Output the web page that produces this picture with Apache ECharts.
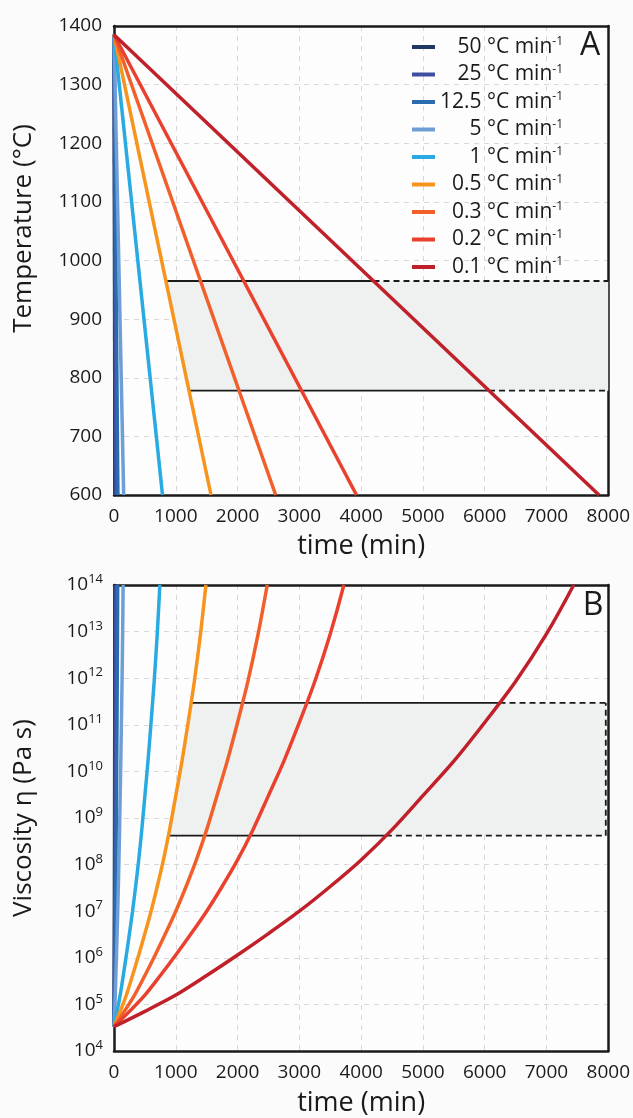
<!DOCTYPE html>
<html>
<head>
<meta charset="utf-8">
<script src="https://cdn.jsdelivr.net/npm/echarts@6/dist/echarts.min.js"></script>
<style>
  html, body { margin: 0; padding: 0; background: #fbfbfb; }
  #chart { width: 633px; height: 1118px; }
</style>
</head>
<body>
<div id="chart"></div>
<script>
const FONT = '"Open Sans", "Noto Sans", "DejaVu Sans", sans-serif';
const INK = '#1a1a1a';

// Cooling rates (°C per minute) and line colours
const rates = ['50', '25', '12.5', '5', '1', '0.5', '0.3', '0.2', '0.1'];
const rateColors = ['#1f3864', '#3f4ea1', '#2b6cb0', '#6d9fd6', '#29abe2',
                    '#f7941d', '#f1602a', '#e9412e', '#c0202a'];

// Panel A: linear cooling paths, [time (min), temperature (°C)]
const tempPaths = [
  [[0, 1385], [16, 600]],
  [[0, 1385], [31, 600]],
  [[0, 1385], [63, 600]],
  [[0, 1385], [157, 600]],
  [[0, 1385], [785, 600]],
  [[0, 1385], [1570, 600]],
  [[0, 1385], [2617, 600]],
  [[0, 1385], [3925, 600]],
  [[0, 1385], [7850, 600]]
];

// Panel B: log10 viscosity (Pa s) sampled along every path ...
const viscLevels = [4.52, 4.85, 5.2, 5.62, 6.06, 6.52, 7.0, 7.53, 8.1, 8.75, 9.48, 10.22, 11.05, 11.93, 12.95, 14];
// ... and the time (min) at which each path reaches those levels
const viscTimes = [
  [0, 1, 2, 3, 4, 5, 6, 7, 8, 9, 10, 11, 12, 13, 14, 15],
  [0, 2, 4, 6, 8, 10, 12, 14, 16, 18, 20, 22, 24, 26, 28, 30],
  [0, 4, 8, 12, 16, 20, 24, 28, 32, 36, 40, 44, 48, 52, 56, 59.5],
  [0, 10, 20, 30, 40, 50, 60, 70, 80, 90, 100, 110, 120, 130, 140, 148],
  [0, 50, 100, 150, 200, 250, 300, 350, 400, 450, 500, 550, 600, 650, 700, 742],
  [0, 100, 200, 300, 400, 500, 600, 700, 800, 900, 1000, 1100, 1200, 1300, 1400, 1488],
  [0, 167, 333, 500, 667, 833, 1000, 1167, 1333, 1500, 1667, 1833, 2000, 2167, 2333, 2480],
  [0, 250, 500, 750, 1000, 1250, 1500, 1750, 2000, 2250, 2500, 2750, 3000, 3250, 3500, 3720],
  [0, 500, 1000, 1500, 2000, 2500, 3000, 3500, 4000, 4500, 5000, 5500, 6000, 6500, 7000, 7440]
];

// Crystallisation window, [lower bound, upper bound]
const windowTemp = [778, 965];            // °C
const windowTempStart = [1214, 840];      // time where each bound meets the 0.5 °C/min path
const windowTempSolidEnd = [6070, 4200];  // time where each bound meets the 0.1 °C/min path
const windowVisc = [8.62, 11.47];         // log10 viscosity
const windowViscStart = [880, 1248];
const windowViscSolidEnd = [4400, 6240];
const timeEnd = 8000;
const windowViscEdge = 7960;              // dashed right edge of the viscosity window

const pow10 = v => Math.pow(10, v);
const seriesName = i => rates[i] + ' °C min-1';

function windowPolygon(xIdx, yIdx, pts) {
  return {
    type: 'custom',
    xAxisIndex: xIdx, yAxisIndex: yIdx,
    silent: true, z: 1,
    data: [0],
    renderItem: (params, api) => ({
      type: 'polygon',
      shape: { points: pts.map(p => api.coord(p)) },
      style: { fill: '#eff0f0' }
    })
  };
}

function rule(xIdx, yIdx, data, dashed) {
  return {
    type: 'line', xAxisIndex: xIdx, yAxisIndex: yIdx,
    data, showSymbol: false, silent: true, z: 2,
    lineStyle: { color: INK, width: 1.8, type: dashed ? [6, 4] : 'solid' }
  };
}

const series = [];

// shaded windows
series.push(windowPolygon(0, 0, [
  [windowTempStart[1], windowTemp[1]], [timeEnd, windowTemp[1]],
  [timeEnd, windowTemp[0]], [windowTempStart[0], windowTemp[0]]
]));
series.push(windowPolygon(1, 1, [
  [windowViscStart[1], pow10(windowVisc[1])], [windowViscEdge, pow10(windowVisc[1])],
  [windowViscEdge, pow10(windowVisc[0])], [windowViscStart[0], pow10(windowVisc[0])]
]));

// window outlines: solid between the 0.5 and 0.1 °C/min paths, dashed beyond
for (let k = 0; k < 2; k++) {
  series.push(rule(0, 0, [[windowTempStart[k], windowTemp[k]], [windowTempSolidEnd[k], windowTemp[k]]], false));
  series.push(rule(0, 0, [[windowTempSolidEnd[k], windowTemp[k]], [timeEnd, windowTemp[k]]], true));
  series.push(rule(1, 1, [[windowViscStart[k], pow10(windowVisc[k])], [windowViscSolidEnd[k], pow10(windowVisc[k])]], false));
  series.push(rule(1, 1, [[windowViscSolidEnd[k], pow10(windowVisc[k])], [windowViscEdge, pow10(windowVisc[k])]], true));
}
series.push(rule(1, 1, [[windowViscEdge, pow10(windowVisc[0])], [windowViscEdge, pow10(windowVisc[1])]], true));

// cooling paths
rates.forEach((r, i) => {
  series.push({
    name: seriesName(i), type: 'line', xAxisIndex: 0, yAxisIndex: 0,
    data: tempPaths[i], showSymbol: false, clip: false, z: 3,
    color: rateColors[i], lineStyle: { width: 3.5, color: rateColors[i] }
  });
  series.push({
    name: seriesName(i), type: 'line', xAxisIndex: 1, yAxisIndex: 1,
    data: viscTimes[i].map((t, j) => [t, pow10(viscLevels[j])]),
    showSymbol: false, clip: false, z: 3, smooth: 0.3,
    color: rateColors[i], lineStyle: { width: 3.5, color: rateColors[i] }
  });
});

const frameLine = { show: true, onZero: false, lineStyle: { color: INK, width: 2.5 } };
const tickLabel = { fontFamily: FONT, fontSize: 19, color: INK, formatter: v => String(v) };
const axisName = { fontFamily: FONT, fontSize: 26, color: INK };
const split = {
  show: true, showMinLine: false, showMaxLine: false,
  lineStyle: { color: '#d8d8d8', width: 1, type: [5, 5] }
};

const timeAxis = (gridIndex, gap) => ({
  type: 'value', gridIndex, min: 0, max: timeEnd, interval: 1000,
  axisLine: frameLine, axisTick: { show: false },
  axisLabel: Object.assign({ margin: 12 }, tickLabel),
  splitLine: split,
  name: 'time (min)', nameLocation: 'middle', nameGap: gap,
  nameTextStyle: Object.assign({}, axisName, { fontSize: 27 })
});

// plain edges closing the frame on the top and right of each panel
const topEdge = gridIndex => ({
  type: 'value', gridIndex, position: 'top', min: 0, max: 1,
  axisLine: frameLine, axisTick: { show: false }, axisLabel: { show: false }, splitLine: { show: false }
});
const rightEdge = gridIndex => ({
  type: 'value', gridIndex, position: 'right', min: 0, max: 1,
  axisLine: frameLine, axisTick: { show: false }, axisLabel: { show: false }, splitLine: { show: false }
});

const option = {
  backgroundColor: '#fbfbfb',
  animation: false,
  textStyle: { fontFamily: FONT },
  grid: [
    { left: 114, top: 26, width: 495, height: 469, show: true, borderWidth: 0, backgroundColor: '#fdfdfd' },
    { left: 114, top: 585, width: 495, height: 468, show: true, borderWidth: 0, backgroundColor: '#fdfdfd' }
  ],
  xAxis: [timeAxis(0, 38), timeAxis(1, 39), topEdge(0), topEdge(1)],
  yAxis: [
    {
      type: 'value', gridIndex: 0, min: 600, max: 1400, interval: 100,
      axisLine: frameLine, axisTick: { show: false },
      axisLabel: Object.assign({ margin: 12 }, tickLabel),
      splitLine: split,
      name: 'Temperature (°C)', nameLocation: 'middle', nameGap: 77,
      nameTextStyle: Object.assign({}, axisName, { padding: [0, 0, 0, 64] })
    },
    {
      type: 'log', logBase: 10, gridIndex: 1, min: 1e4, max: 1e14, interval: 1,
      axisLine: frameLine, axisTick: { show: false },
      axisLabel: {
        margin: 11,
        formatter: v => '{b|10}{s|' + Math.round(Math.log10(v)) + '}',
        rich: {
          b: { fontFamily: FONT, fontSize: 19, color: INK, lineHeight: 24 },
          s: { fontFamily: FONT, fontSize: 13, color: INK, verticalAlign: 'top', lineHeight: 24 }
        }
      },
      splitLine: split,
      name: 'Viscosity η (Pa s)', nameLocation: 'middle', nameGap: 77, nameTextStyle: axisName
    },
    rightEdge(0),
    rightEdge(1)
  ],
  legend: {
    left: 407, top: 31, orient: 'vertical',
    itemWidth: 23, itemHeight: 4, itemGap: 6, icon: 'rect',
    selectedMode: false,
    data: rates.map((r, i) => seriesName(i)),
    formatter: name => '{n|' + name.replace(' min-1', ' min') + '}{s|-1}',
    textStyle: {
      width: 123,
      rich: {
        n: { fontFamily: FONT, fontSize: 21, color: INK, align: 'right', lineHeight: 22 },
        s: { fontFamily: FONT, fontSize: 12, color: INK, align: 'right', verticalAlign: 'top', lineHeight: 22 }
      }
    }
  },
  graphic: [
    { type: 'text', x: 590, y: 46, style: { text: 'A', font: '32px ' + FONT, fill: INK, align: 'center', verticalAlign: 'middle' } },
    { type: 'text', x: 593, y: 606, style: { text: 'B', font: '32px ' + FONT, fill: INK, align: 'center', verticalAlign: 'middle' } },
    { type: 'text', x: 417, y: 353, style: { text: 'Crystallisation\nwindow', font: '18px ' + FONT, lineHeight: 27, fill: INK, align: 'right', verticalAlign: 'middle' } },
    { type: 'text', x: 305, y: 770, style: { text: 'Crystallisation\nwindow', font: '18px ' + FONT, lineHeight: 25, fill: INK, align: 'left', verticalAlign: 'middle' } }
  ],
  series
};

const chart = echarts.init(document.getElementById('chart'), null, { renderer: 'canvas' });
chart.setOption(option);
</script>
</body>
</html>
